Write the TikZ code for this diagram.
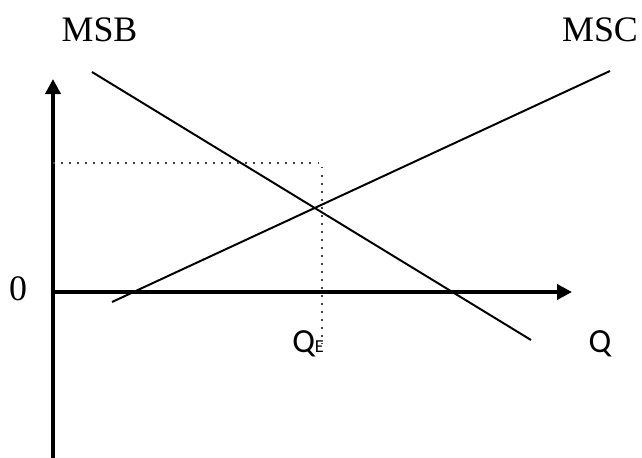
\documentclass[tikz,border=0pt]{standalone}
\usepackage{fontspec}
\setmainfont{Liberation Serif}
\newfontfamily\calibri{Carlito}
\usetikzlibrary{calc, arrows.meta}

\begin{document}
\begin{tikzpicture}[x=0.025cm, y=-0.025cm]
    % Fijar los límites del gráfico
    \useasboundingbox (0,0) rectangle (642,458);

    % Definir los puntos de los ejes
    \coordinate (O) at (53,292);
    \coordinate (Yarr) at (53,79);
    \coordinate (Yaba) at (53,458);
    \coordinate (Xder) at (572,292);

    % Dibujar los ejes
    \draw[-{Triangle[length=0.375cm, width=0.375cm]}, line width=2.6pt] (Yaba) -- (Yarr);
    \draw[-{Triangle[length=0.375cm, width=0.375cm]}, line width=2.6pt] (O) -- (Xder);

    % Definir las rectas MSB y MSC
    \coordinate (B1) at (92,72);
    \coordinate (B2) at (531,340);
    \coordinate (C1) at (112,302);
    \coordinate (C2) at (610,71);

    % Dibujar la recta MSB
    \draw[line width=1.4pt] (B1) -- (B2);

    % Dibujar la recta MSC
    \draw[line width=1.4pt] (C1) -- (C2);

    % Dibujar las líneas punteadas hacia Q_E
    \coordinate (P) at (53,163);
    \coordinate (E) at (322,163);
    \coordinate (F) at (322,343);
    \draw[line width=1.4pt, black!75, dash pattern=on 1.4pt off 4.3pt] (P) -- (E) -- (F);

    % Añadir las etiquetas
    \node[anchor=base, inner sep=0pt, font=\fontsize{25.5pt}{30pt}\selectfont] (msb) at (99.5,42) {MSB};
    \node[anchor=base, inner sep=0pt, font=\fontsize{25.5pt}{30pt}\selectfont] (msc) at (600,42) {MSC};
    \node[anchor=base, inner sep=0pt, font=\fontsize{25.5pt}{30pt}\selectfont] (cero) at (18,300) {0};
    \node[anchor=base west, inner sep=0pt, font=\calibri\fontsize{24pt}{28pt}\selectfont] (qe) at (292,352) {Q{\fontsize{13pt}{15pt}\selectfont E}};
    \node[anchor=base, inner sep=0pt, font=\calibri\fontsize{24pt}{28pt}\selectfont] (q) at (600,352) {Q};

\end{tikzpicture}
\end{document}
